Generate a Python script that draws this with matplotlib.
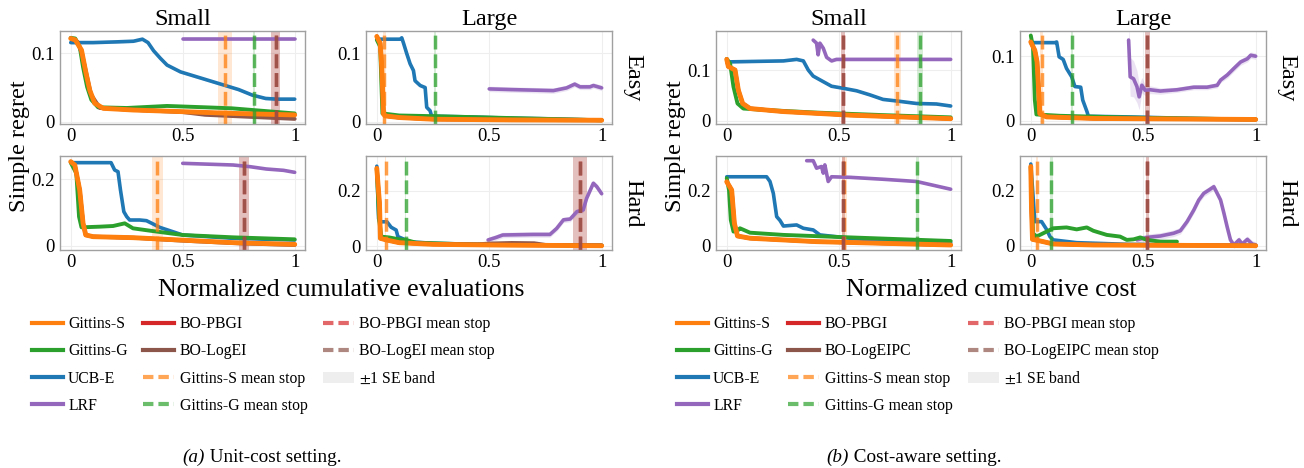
import matplotlib.pyplot as plt
from matplotlib.lines import Line2D
from matplotlib.patches import Patch
import numpy as np

plt.rcParams['font.family'] = ['Liberation Serif', 'DejaVu Serif']
plt.rcParams['mathtext.fontset'] = 'stix'

C_GS = '#ff7f0e'   # Gittins-S
C_GG = '#2ca02c'   # Gittins-G
C_UCB = '#1f77b4'  # UCB-E
C_LRF = '#9467bd'  # LRF
C_PBGI = '#d62728' # BO-PBGI
C_LOG = '#8c564b'  # BO-LogEI / BO-LogEIPC

# ---------------- (a) unit cost ----------------
# small / easy
ucb_unit_small_easy = [(0, 0.116), (0.1, 0.116), (0.2, 0.117), (0.28, 0.118), (0.32, 0.121), (0.345, 0.116),
                       (0.37, 0.104), (0.4, 0.093), (0.43, 0.083), (0.49, 0.073), (0.55, 0.067), (0.61, 0.061),
                       (0.7, 0.052), (0.75, 0.047), (0.81, 0.039), (0.87, 0.034), (0.92, 0.033), (1.0, 0.033)]
lrf_unit_small_easy = [(0.5, 0.121), (0.75, 0.121), (1.0, 0.121)]
gg_unit_small_easy = [(0, 0.123), (0.02, 0.122), (0.04, 0.11), (0.055, 0.08), (0.073, 0.051), (0.092, 0.032),
                      (0.122, 0.021), (0.25, 0.02), (0.43, 0.023), (0.6, 0.021), (0.72, 0.0195), (0.85, 0.016),
                      (1.0, 0.012)]
gs_unit_small_easy = [(0, 0.122), (0.02, 0.12), (0.048, 0.105), (0.067, 0.073), (0.085, 0.046), (0.107, 0.027),
                      (0.145, 0.0195), (0.28, 0.017), (0.5, 0.0146), (0.73, 0.012), (1.0, 0.0098)]
log_unit_small_easy = [(0, 0.122), (0.03, 0.117), (0.05, 0.1), (0.07, 0.07), (0.09, 0.04), (0.13, 0.02),
                       (0.3, 0.017), (0.5, 0.014), (0.6, 0.01), (0.8, 0.007), (1.0, 0.004)]
stops_unit_small_easy = [('gs', 0.688, 0.03), ('gg', 0.817, 0.005), ('pbgi', 0.915, 0.02), ('log', 0.915, 0.02)]

# large / easy
ucb_unit_large_easy = [(0, 0.121), (0.104, 0.121), (0.111, 0.123), (0.119, 0.115), (0.133, 0.1), (0.148, 0.085),
                       (0.163, 0.075), (0.17, 0.06), (0.193, 0.053), (0.215, 0.05), (0.222, 0.021), (0.237, 0.016),
                       (0.244, 0.008), (0.4, 0.007), (0.6, 0.005), (0.8, 0.004), (1.0, 0.002)]
lrf_unit_large_easy = [(0.5, 0.048), (0.6, 0.047), (0.785, 0.0455), (0.844, 0.0495), (0.88, 0.055), (0.904, 0.051),
                       (0.948, 0.051), (0.963, 0.053), (1.0, 0.0495)]
gg_unit_large_easy = [(0, 0.12), (0.015, 0.11), (0.025, 0.012), (0.1, 0.009), (0.25, 0.008), (0.5, 0.006),
                      (0.75, 0.004), (1.0, 0.002)]
gs_unit_large_easy = [(0, 0.125), (0.015, 0.115), (0.022, 0.08), (0.03, 0.011), (0.037, 0.0084), (0.1, 0.006),
                      (0.25, 0.0035), (0.6, 0.0025), (1.0, 0.002)]
log_unit_large_easy = gs_unit_large_easy
stops_unit_large_easy = [('gs', 0.034, 0.005), ('gg', 0.26, 0.005)]

# small / hard
ucb_unit_small_hard = [(0, 0.25), (0.18, 0.25), (0.196, 0.228), (0.211, 0.223), (0.222, 0.168), (0.237, 0.103),
                       (0.25, 0.088), (0.263, 0.078), (0.308, 0.078), (0.338, 0.076), (0.368, 0.066), (0.397, 0.056),
                       (0.442, 0.046), (0.5, 0.033), (0.725, 0.023), (1.0, 0.018)]
lrf_unit_small_hard = [(0.5, 0.248), (0.725, 0.243), (0.8, 0.238), (0.873, 0.231), (0.95, 0.227), (1.0, 0.221)]
gg_unit_small_hard = [(0, 0.25), (0.025, 0.218), (0.037, 0.088), (0.048, 0.056), (0.13, 0.058), (0.189, 0.06),
                      (0.241, 0.068), (0.278, 0.053), (0.353, 0.046), (0.5, 0.033), (0.725, 0.026), (1.0, 0.02)]
gs_unit_small_hard = [(0, 0.253), (0.018, 0.243), (0.04, 0.168), (0.055, 0.068), (0.067, 0.033), (0.1, 0.028),
                      (0.278, 0.025), (0.427, 0.02), (0.725, 0.01), (1.0, 0.005)]
log_unit_small_hard = [(0, 0.253), (0.018, 0.243), (0.04, 0.168), (0.055, 0.068), (0.067, 0.033), (0.1, 0.028),
                       (0.3, 0.024), (0.5, 0.016), (0.75, 0.008), (1.0, 0.003)]
stops_unit_small_hard = [('gs', 0.387, 0.025), ('pbgi', 0.774, 0.022), ('log', 0.774, 0.022)]

# large / hard
ucb_unit_large_hard = [(0, 0.29), (0.008, 0.1), (0.012, 0.088), (0.045, 0.088), (0.064, 0.068), (0.086, 0.058),
                       (0.094, 0.034), (0.15, 0.015), (0.25, 0.01), (0.5, 0.005), (1.0, 0.003)]
lrf_unit_large_hard = [(0.495, 0.022), (0.53, 0.031), (0.56, 0.04), (0.695, 0.042), (0.77, 0.042), (0.8, 0.064),
                       (0.83, 0.095), (0.86, 0.098), (0.89, 0.125), (0.918, 0.131), (0.933, 0.173), (0.963, 0.228),
                       (0.978, 0.216), (1.0, 0.19)]
gg_unit_large_hard = [(0, 0.28), (0.01, 0.1), (0.02, 0.034), (0.056, 0.031), (0.1, 0.024), (0.13, 0.022),
                      (0.175, 0.012), (0.4, 0.006), (1.0, 0.001)]
gs_unit_large_hard = [(0, 0.282), (0.012, 0.155), (0.016, 0.028), (0.042, 0.022), (0.1, 0.012), (0.25, 0.006),
                      (0.6, 0.003), (1.0, 0.001)]
log_unit_large_hard = [(0, 0.282), (0.012, 0.155), (0.016, 0.028), (0.1, 0.012), (0.3, 0.006), (0.45, 0.006),
                       (0.5, 0.009), (0.6, 0.011), (0.7, 0.01), (0.75, 0.004), (1.0, 0.002)]
stops_unit_large_hard = [('gs', 0.039, 0.004), ('gg', 0.128, 0.004), ('pbgi', 0.905, 0.032), ('log', 0.905, 0.032)]

# ---------------- (b) cost aware ----------------
# small / easy
ucb_cost_small_easy = [(0, 0.116), (0.253, 0.118), (0.312, 0.121), (0.342, 0.118), (0.364, 0.1), (0.386, 0.088),
                       (0.431, 0.077), (0.468, 0.068), (0.52, 0.064), (0.58, 0.059), (0.639, 0.051), (0.698, 0.042),
                       (0.758, 0.039), (0.847, 0.034), (0.936, 0.033), (1.0, 0.029)]
lrf_cost_small_easy = [(0.386, 0.159), (0.401, 0.153), (0.408, 0.13), (0.416, 0.153), (0.431, 0.143),
                       (0.446, 0.125), (0.468, 0.118), (0.49, 0.121), (1.0, 0.121)]
gg_cost_small_easy = [(0, 0.122), (0.015, 0.113), (0.03, 0.067), (0.048, 0.034), (0.074, 0.024), (0.178, 0.021),
                      (0.4, 0.016), (0.7, 0.011), (1.0, 0.0066)]
gs_cost_small_easy = [(0, 0.121), (0.007, 0.107), (0.037, 0.1), (0.052, 0.06), (0.071, 0.034), (0.104, 0.024),
                      (0.253, 0.018), (0.55, 0.011), (1.0, 0.004)]
log_cost_small_easy = gs_cost_small_easy
stops_cost_small_easy = [('pbgi', 0.52, 0.008), ('log', 0.52, 0.008), ('gs', 0.761, 0.015), ('gg', 0.863, 0.013)]

# large / easy
ucb_cost_large_easy = [(0, 0.121), (0.107, 0.121), (0.115, 0.122), (0.126, 0.099), (0.144, 0.095), (0.159, 0.081),
                       (0.182, 0.068), (0.196, 0.053), (0.222, 0.052), (0.231, 0.032), (0.25, 0.014), (0.256, 0.007),
                       (0.43, 0.006), (0.725, 0.0036), (1.0, 0.002)]
lrf_cost_large_easy = [(0.435, 0.125), (0.442, 0.068), (0.457, 0.065), (0.472, 0.053), (0.482, 0.037),
                       (0.494, 0.055), (0.509, 0.047), (0.531, 0.048), (0.576, 0.046), (0.65, 0.048), (0.725, 0.052),
                       (0.784, 0.052), (0.829, 0.055), (0.844, 0.063), (0.874, 0.071), (0.903, 0.081),
                       (0.933, 0.091), (0.963, 0.096), (0.978, 0.1015), (1.0, 0.1)]
lrf_cost_large_easy_se = [0.03, 0.03, 0.028, 0.025, 0.02, 0.012, 0.008, 0.006, 0.005, 0.004, 0.004,
                          0.004, 0.004, 0.004, 0.005, 0.005, 0.005, 0.005, 0.005, 0.005]
gg_cost_large_easy = [(0, 0.132), (0.01, 0.114), (0.018, 0.032), (0.025, 0.0098), (0.13, 0.0077), (0.43, 0.005),
                      (1.0, 0.002)]
gs_cost_large_easy = [(0, 0.122), (0.018, 0.109), (0.028, 0.091), (0.034, 0.053), (0.04, 0.011), (0.07, 0.006),
                      (0.28, 0.0036), (1.0, 0.002)]
log_cost_large_easy = gs_cost_large_easy
stops_cost_large_easy = [('gs', 0.048, 0.005), ('gg', 0.182, 0.005), ('pbgi', 0.519, 0.01), ('log', 0.519, 0.01)]

# small / hard
ucb_cost_small_hard = [(0, 0.25), (0.178, 0.25), (0.193, 0.233), (0.208, 0.19), (0.223, 0.106), (0.238, 0.092),
                       (0.253, 0.072), (0.312, 0.076), (0.342, 0.064), (0.386, 0.058), (0.416, 0.04), (0.55, 0.028),
                       (0.698, 0.019), (1.0, 0.012)]
lrf_cost_small_hard = [(0.357, 0.308), (0.386, 0.308), (0.401, 0.281), (0.423, 0.287), (0.431, 0.263),
                       (0.438, 0.293), (0.445, 0.265), (0.453, 0.233), (0.468, 0.25), (0.55, 0.248), (0.698, 0.241),
                       (0.847, 0.233), (1.0, 0.205)]
gg_cost_small_hard = [(0, 0.245), (0.01, 0.202), (0.018, 0.094), (0.03, 0.052), (0.052, 0.058), (0.059, 0.064),
                      (0.104, 0.048), (0.253, 0.04), (0.55, 0.031), (1.0, 0.018)]
gs_cost_small_hard = [(0, 0.232), (0.022, 0.202), (0.034, 0.082), (0.048, 0.036), (0.104, 0.028), (0.4, 0.0157),
                      (1.0, 0.0036)]
log_cost_small_hard = gs_cost_small_hard
stops_cost_small_hard = [('gs', 0.525, 0.012), ('pbgi', 0.52, 0.006), ('log', 0.52, 0.006), ('gg', 0.851, 0.006)]

# large / hard
ucb_cost_large_hard = [(0, 0.296), (0.018, 0.088), (0.048, 0.088), (0.07, 0.06), (0.085, 0.034), (0.1, 0.022),
                       (0.204, 0.012), (0.43, 0.006), (1.0, 0.002)]
lrf_cost_large_hard = [(0.472, 0.022), (0.516, 0.031), (0.576, 0.036), (0.635, 0.046), (0.665, 0.055),
                       (0.695, 0.088), (0.725, 0.13), (0.747, 0.166), (0.769, 0.19), (0.792, 0.202), (0.814, 0.214),
                       (0.829, 0.19), (0.844, 0.166), (0.859, 0.118), (0.873, 0.07), (0.888, 0.022),
                       (0.903, 0.0036), (0.926, 0.022), (0.94, 0.007), (0.963, 0.024), (0.985, 0.007), (1.0, 0.004)]
gg_cost_large_hard = [(0, 0.285), (0.01, 0.046), (0.025, 0.034), (0.048, 0.043), (0.07, 0.052), (0.1, 0.064),
                      (0.159, 0.067), (0.204, 0.06), (0.249, 0.067), (0.278, 0.055), (0.338, 0.04), (0.397, 0.034),
                      (0.427, 0.022), (0.457, 0.024), (0.487, 0.031), (0.516, 0.022), (0.576, 0.0157),
                      (0.65, 0.0157)]
gs_cost_large_hard = [(0, 0.287), (0.003, 0.142), (0.0075, 0.024), (0.055, 0.0157), (0.1, 0.0072), (0.28, 0.0036),
                      (1.0, 0.001)]
log_cost_large_hard = gs_cost_large_hard
stops_cost_large_hard = [('gs', 0.028, 0.005), ('gg', 0.092, 0.005), ('pbgi', 0.519, 0.008), ('log', 0.519, 0.008)]

stop_colors = {'gs': C_GS, 'gg': C_GG, 'pbgi': C_PBGI, 'log': C_LOG}

W, H = 1304, 468
fig = plt.figure(figsize=(W / 100, H / 100), dpi=100)


def rect(l, t, r, b):
    return [l / W, 1 - b / H, (r - l) / W, (b - t) / H]


def draw_curve(ax, pts, color, lw, se=0.0012):
    x = np.array([p[0] for p in pts])
    y = np.array([p[1] for p in pts])
    s = np.array(se) if np.ndim(se) else np.full_like(y, se)
    ax.fill_between(x, y - s, y + s, color=color, alpha=0.18, lw=0)
    ax.plot(x, y, color=color, lw=lw, solid_capstyle='round', solid_joinstyle='round')


def panel(ax, curves, stops, ylim, ytop, lrf_se=0.003):
    ucb, lrf, gg, log, gs = curves
    for key, x, w in stops:
        ax.axvspan(x - w, x + w, color=stop_colors[key], alpha=0.18, lw=0)
    draw_curve(ax, lrf, C_LRF, 2.6, lrf_se)
    draw_curve(ax, ucb, C_UCB, 2.6, 0.002)
    draw_curve(ax, gg, C_GG, 2.8)
    draw_curve(ax, gs, C_PBGI, 2.6)
    draw_curve(ax, log, C_LOG, 2.8)
    draw_curve(ax, gs, C_GS, 3.5)
    for key, x, w in stops:
        ax.axvline(x, color=stop_colors[key], lw=2.5, alpha=0.75, ls=(0, (4, 1.4)))
    ax.set_xlim(-0.048, 1.046)
    ax.set_ylim(*ylim)
    ax.set_xticks([0, 0.5, 1])
    ax.set_xticklabels(['0', '0.5', '1'])
    ax.set_yticks([0, ytop])
    ax.set_yticklabels(['0', f'{ytop:g}'])
    ax.tick_params(length=0, labelsize=13.5, pad=3)
    ax.tick_params(axis='y', pad=4)
    ax.grid(True, color='#eeeeee', lw=0.8)
    ax.set_axisbelow(True)
    for sp in ax.spines.values():
        sp.set_color('#a0a0a0')
        sp.set_linewidth(1.0)


# axes frames in pixels: (left, right) per column, (top, bottom) per row
cols_a = [(60, 305), (366, 612)]
cols_b = [(716, 961), (1020, 1266)]
rows = [(31, 124), (156, 250)]

unit_panels = [
    [((ucb_unit_small_easy, lrf_unit_small_easy, gg_unit_small_easy, log_unit_small_easy, gs_unit_small_easy),
      stops_unit_small_easy, (-0.0035, 0.133), 0.1, 0.002),
     ((ucb_unit_large_easy, lrf_unit_large_easy, gg_unit_large_easy, log_unit_large_easy, gs_unit_large_easy),
      stops_unit_large_easy, (-0.0035, 0.133), 0.1, 0.004)],
    [((ucb_unit_small_hard, lrf_unit_small_hard, gg_unit_small_hard, log_unit_small_hard, gs_unit_small_hard),
      stops_unit_small_hard, (-0.012, 0.27), 0.2, 0.002),
     ((ucb_unit_large_hard, lrf_unit_large_hard, gg_unit_large_hard, log_unit_large_hard, gs_unit_large_hard),
      stops_unit_large_hard, (-0.0145, 0.327), 0.2, 0.01)],
]
cost_panels = [
    [((ucb_cost_small_easy, lrf_cost_small_easy, gg_cost_small_easy, log_cost_small_easy, gs_cost_small_easy),
      stops_cost_small_easy, (-0.0065, 0.177), 0.1, 0.003),
     ((ucb_cost_large_easy, lrf_cost_large_easy, gg_cost_large_easy, log_cost_large_easy, gs_cost_large_easy),
      stops_cost_large_easy, (-0.005, 0.139), 0.1, lrf_cost_large_easy_se)],
    [((ucb_cost_small_hard, lrf_cost_small_hard, gg_cost_small_hard, log_cost_small_hard, gs_cost_small_hard),
      stops_cost_small_hard, (-0.0145, 0.325), 0.2, 0.003),
     ((ucb_cost_large_hard, lrf_cost_large_hard, gg_cost_large_hard, log_cost_large_hard, gs_cost_large_hard),
      stops_cost_large_hard, (-0.0145, 0.325), 0.2, 0.012)],
]

for cols, panels, xlabel, xl_center in [(cols_a, unit_panels, 'Normalized cumulative evaluations', 341),
                                        (cols_b, cost_panels, 'Normalized cumulative cost', 991)]:
    for r, (t, b) in enumerate(rows):
        for c, (l, rr) in enumerate(cols):
            ax = fig.add_axes(rect(l, t, rr, b))
            curves, stops, ylim, ytop, lse = panels[r][c]
            panel(ax, curves, stops, ylim, ytop, lse)
            if r == 0:
                ax.set_title(['Small', 'Large'][c], fontsize=17.5, pad=4)
        fig.text((cols[1][1] + 10) / W, 1 - (rows[r][0] + rows[r][1]) / 2 / H, ['Easy', 'Hard'][r],
                 rotation=-90, fontsize=17.5, ha='left', va='center')
    fig.text((cols[0][0] - 40) / W, 1 - 146 / H, 'Simple regret', rotation=90, fontsize=17.5,
             ha='center', va='center')
    fig.text(xl_center / W, 1 - 290 / H, xlabel, fontsize=18.5, ha='center', va='center')

solid = lambda c: Line2D([], [], color=c, lw=3)
dashed = lambda c: Line2D([], [], color=c, lw=3, alpha=0.7, ls=(0, (2.5, 1.2)))
band = Patch(facecolor='#eeeeee', edgecolor='none')

for x0, logname in [(32, 'BO-LogEI'), (677, 'BO-LogEIPC')]:
    handles = [solid(C_GS), solid(C_GG), solid(C_UCB), solid(C_LRF),
               solid(C_PBGI), solid(C_LOG), dashed(C_GS), dashed(C_GG),
               dashed(C_PBGI), dashed(C_LOG), band]
    labels = ['Gittins-S', 'Gittins-G', 'UCB-E', 'LRF',
              'BO-PBGI', logname, 'Gittins-S mean stop', 'Gittins-G mean stop',
              'BO-PBGI mean stop', f'{logname} mean stop', r'$\pm$1 SE band']
    fig.legend(handles, labels, ncol=3, loc='upper left', bbox_to_anchor=(x0 / W, 1 - 316 / H),
               frameon=False, fontsize=11.3, handlelength=1.95, handletextpad=0.35,
               columnspacing=1.0, labelspacing=0.72, borderpad=0, borderaxespad=0)

for xr, tag, rest in [(205, '(a)', ' Unit-cost setting.'), (849, '(b)', ' Cost-aware setting.')]:
    fig.text(xr / W, 1 - 457 / H, tag, fontsize=13.8, style='italic', ha='right', va='center')
    fig.text(xr / W, 1 - 457 / H, rest, fontsize=13.8, ha='left', va='center')

fig.savefig('out.png', dpi=100)
